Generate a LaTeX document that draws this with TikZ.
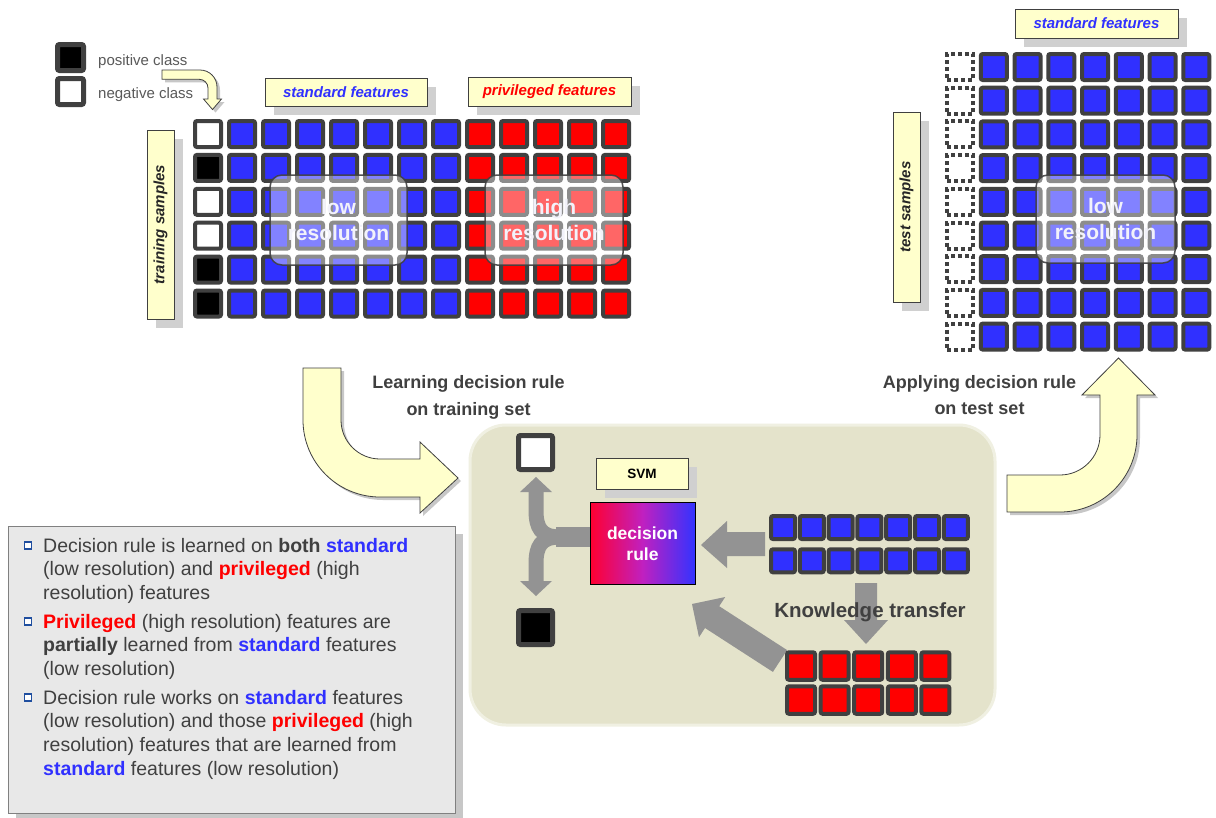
\documentclass[tikz,border=0pt]{standalone}
\usepackage{fontspec}
\setmainfont{Liberation Sans}
\usetikzlibrary{shadows}
\definecolor{cellgray}{HTML}{404040}
\definecolor{cblue}{HTML}{3030FF}
\definecolor{cred}{HTML}{FF0000}
\definecolor{labelbg}{HTML}{FFFFCC}
\definecolor{shadowgray}{HTML}{D0D0D0}
\definecolor{txtgray}{HTML}{404040}
\definecolor{arrowgray}{HTML}{939393}
\definecolor{panelbg}{HTML}{E4E3CB}
\definecolor{boxbg}{HTML}{E8E8E8}
\definecolor{legtxt}{HTML}{595959}
\definecolor{bulletblue}{HTML}{1F4E9F}
\definecolor{ruleL}{HTML}{FF0030}
\definecolor{ruleM}{HTML}{C020C0}
\definecolor{ruleR}{HTML}{3333FF}
\definecolor{glasstxt}{HTML}{F2F2FA}
\newcommand\Std[1]{\textbf{\color{cblue}#1}}
\newcommand\Priv[1]{\textbf{\color{cred}#1}}
\tikzset{
 cell/.style={draw=cellgray, line width=4pt, minimum size=26pt, inner sep=0pt, rounded corners=2pt},
 bcell/.style={cell, fill=cblue},
 rcell/.style={cell, fill=cred},
 wcell/.style={cell, fill=white},
 kcell/.style={cell, fill=black},
 dcell/.style={cell, fill=white, dash pattern=on 4pt off 3pt, rounded corners=0pt},
 pcell/.style={draw=cellgray, line width=4pt, inner sep=0pt, rounded corners=2pt},
 bigsq/.style={draw=cellgray, line width=5pt, inner sep=0pt, rounded corners=2pt},
 labelbox/.style={draw=cellgray, line width=0.8pt, fill=labelbg, inner sep=0pt,
   drop shadow={shadow xshift=9pt, shadow yshift=-9pt, fill=shadowgray, opacity=1}},
 lbfont/.style={font=\fontsize{15}{18}\selectfont\bfseries\itshape},
 glassbox/.style={draw=cellgray, line width=1.5pt, fill=white, fill opacity=0.4, draw opacity=0.9,
   text opacity=1, text=glasstxt, rounded corners=12pt, align=center, inner sep=0pt,
   font=\fontsize{21}{26}\selectfont\bfseries},
 yarrow/.style={fill=labelbg, draw=cellgray, line width=0.8pt,
   preaction={fill=black, fill opacity=0.22, transform canvas={xshift=3pt, yshift=-3pt}}},
 garrow/.style={fill=arrowgray, draw=none},
 legfont/.style={font=\fontsize{15}{18}\selectfont, text=legtxt, inner sep=0pt},
 headtxt/.style={font=\fontsize{18}{22}\selectfont\bfseries, text=txtgray, inner sep=0pt, anchor=base},
 bodytxt/.style={anchor=base west, inner sep=0pt, font=\fontsize{19.5}{23.7}\selectfont, text=txtgray},
 bullet/.style={draw=bulletblue, line width=1.8pt, fill=white, minimum size=7pt, inner sep=0pt}
}
\begin{document}
\begin{tikzpicture}[x=1pt,y=-1pt]
\useasboundingbox (0,0) rectangle (1216,817);
\fill[white] (0,0) rectangle (1216,817);

% ---------------- legend ----------------
\node[bigsq, fill=black, minimum size=26pt] (legpos) at (70.5,57.5) {};
\node[bigsq, fill=white, minimum size=26pt] (legneg) at (70.5,91.5) {};
\node[legfont, anchor=base west] (postxt) at (98,65) {positive class};
\node[legfont, anchor=base west] (negtxt) at (98,98) {negative class};
\draw[yarrow] (162,70) -- (200,70) .. controls (209.4,70) and (217,77.6) .. (217,87)
  -- (217,99) -- (221.5,99) -- (212.5,109.5) -- (203.5,99) -- (208,99) -- (208,88)
  .. controls (208,83.2) and (204.1,79.3) .. (199.3,79.3) -- (162,79.3) -- cycle;

% ---------------- training matrix ----------------
\node[labelbox, lbfont, text=cblue, minimum width=162pt, minimum height=28pt] (trstd) at (346,92) {standard features};
\node[labelbox, lbfont, text=cred, minimum width=163pt, minimum height=29pt] (trpriv) at (549.5,91.5) {privileged features};
\node[labelbox, minimum width=27pt, minimum height=189pt] (trsamp) at (160.5,224.5)
  {\rotatebox{90}{\fontsize{15}{18}\selectfont\bfseries\itshape\color{black!85} training samples}};
\foreach \r/\k in {0/wcell,1/kcell,2/wcell,3/wcell,4/kcell,5/kcell}
  \node[\k] (tr-\r-0) at (208,{134+33.9*\r}) {};
\foreach \r in {0,...,5}{
  \foreach \c in {1,...,7}
    \node[bcell] (tr-\r-\c) at ({208+34*\c},{134+33.9*\r}) {};
  \foreach \c in {8,...,12}
    \node[rcell] (tr-\r-\c) at ({208+34*\c},{134+33.9*\r}) {};
}
\node[glassbox, minimum width=137pt, minimum height=90pt] (lowtr) at (338.5,220) {low\\resolution};
\node[glassbox, minimum width=138pt, minimum height=90pt] (hightr) at (554,220) {high\\resolution};

% ---------------- test matrix ----------------
\node[labelbox, lbfont, text=cblue, minimum width=163pt, minimum height=29pt] (testd) at (1096.5,23.5) {standard features};
\node[labelbox, minimum width=27pt, minimum height=190pt] (tesamp) at (906.5,207)
  {\rotatebox{90}{\fontsize{15}{18}\selectfont\bfseries\itshape\color{black!85} test samples}};
\foreach \r in {0,...,8}{
  \node[dcell] (te-\r-0) at (960,{67+33.7*\r}) {};
  \foreach \c in {1,...,7}
    \node[bcell] (te-\r-\c) at ({960+33.75*\c},{67+33.7*\r}) {};
}
\node[glassbox, minimum width=139pt, minimum height=88pt] (lowte) at (1105.5,219) {low\\resolution};

% ---------------- big yellow arrows ----------------
\draw[yarrow] (303,368) -- (303,420) .. controls (303,462.5) and (337.5,497) .. (380,497)
  -- (420,497) -- (420,513) -- (458,478) -- (420,442) -- (420,459) -- (380,459)
  .. controls (358.5,459) and (341,441.5) .. (341,420) -- (341,368) -- cycle;
\draw[yarrow] (1007,475) -- (1060,475) .. controls (1082,475) and (1100,457) .. (1100,435)
  -- (1100,395) -- (1082,395) -- (1118.5,358) -- (1155,395) -- (1137,395) -- (1137,435)
  .. controls (1137,477.5) and (1102.5,512) .. (1060,512) -- (1007,512) -- cycle;
\node[headtxt] (learn1) at (468.5,388) {Learning decision rule};
\node[headtxt] (learn2) at (468.5,415) {on training set};
\node[headtxt] (apply1) at (979.5,388) {Applying decision rule};
\node[headtxt] (apply2) at (979.5,414) {on test set};

% ---------------- central panel ----------------
\node[fill=panelbg, draw=panelbg!55!white, line width=3pt, rounded corners=36pt,
  minimum width=525pt, minimum height=300pt, inner sep=0pt] (panel) at (732.5,575) {};

% gray arrows
\fill[garrow] (765,532) -- (727,532) -- (727,521) -- (701,545) -- (727,568) -- (727,556) -- (765,556) -- cycle;
\fill[garrow] (855,583) -- (877,583) -- (877,620) -- (888,620) -- (866,644) -- (844,620) -- (855,620) -- cycle;
\fill[garrow] (787.1,650.1) -- (719.2,606.2) -- (725.2,597) -- (692,604) -- (699,637.2) -- (705,628) -- (772.9,671.9) -- cycle;
\draw[arrowgray, line width=20pt] (590,537) -- (556,537);
\draw[arrowgray, line width=15pt] (560,537) .. controls (541,537) and (536,528) .. (536,510) -- (536,490);
\draw[arrowgray, line width=15pt] (560,537) .. controls (541,537) and (536,546) .. (536,564) -- (536,583);
\fill[garrow] (520,492) -- (536,477) -- (552,492) -- cycle;
\fill[garrow] (520,581) -- (536,596) -- (552,581) -- cycle;

% squares
\node[bigsq, fill=white, minimum size=34pt] (outneg) at (535.5,452.5) {};
\node[bigsq, fill=black, minimum size=34pt] (outpos) at (535.5,627.5) {};

% SVM + decision rule
\node[labelbox, font=\fontsize{13.5}{16}\selectfont\bfseries, minimum width=92pt, minimum height=31pt] (svm) at (642,473.5) {SVM};
\node[draw=black, line width=0.8pt, left color=ruleL, right color=ruleR, middle color=ruleM,
  minimum width=105pt, minimum height=82pt, inner sep=0pt] (rule) at (642.5,543) {};
\node[font=\fontsize{17.5}{22}\selectfont\bfseries, text=white, anchor=base, inner sep=0pt] (rule1) at (642.5,539) {decision};
\node[font=\fontsize{17.5}{22}\selectfont\bfseries, text=white, anchor=base, inner sep=0pt] (rule2) at (642.5,560) {rule};

% panel cells
\foreach \r in {0,1}{
  \foreach \c in {0,...,6}
    \node[pcell, fill=cblue, minimum width=24pt, minimum height=23pt] (pb-\r-\c) at ({783+28.8*\c},{527.5+33.3*\r}) {};
  \foreach \c in {0,...,4}
    \node[pcell, fill=cred, minimum width=28pt, minimum height=27.5pt] (pr-\r-\c) at ({801+33.6*\c},{666+34*\r}) {};
}
\node[font=\fontsize{20.5}{24}\selectfont\bfseries, text=txtgray, anchor=base, inner sep=0pt] (know) at (870,617) {Knowledge transfer};

% ---------------- notes box ----------------
\node[draw=black!50, line width=1pt, fill=boxbg, minimum width=447pt, minimum height=287pt, inner sep=0pt,
  drop shadow={shadow xshift=8pt, shadow yshift=-8pt, fill=black!22, opacity=1}] (notes) at (231.5,669.5) {};
\node[bullet] (b1) at (28,545.5) {};
\node[bullet] (b2) at (28,621.5) {};
\node[bullet] (b3) at (28,697.5) {};
\node[bodytxt] (l1) at (43,552) {Decision rule is learned on \textbf{both} \Std{standard}};
\node[bodytxt] (l2) at (43,575.7) {(low resolution) and \Priv{privileged} (high};
\node[bodytxt] (l3) at (43,599.4) {resolution) features};
\node[bodytxt] (l4) at (43,628) {\Priv{Privileged} (high resolution) features are};
\node[bodytxt] (l5) at (43,651.7) {\textbf{partially} learned from \Std{standard} features};
\node[bodytxt] (l6) at (43,675.4) {(low resolution)};
\node[bodytxt] (l7) at (43,704) {Decision rule works on \Std{standard} features};
\node[bodytxt] (l8) at (43,727.7) {(low resolution) and those \Priv{privileged} (high};
\node[bodytxt] (l9) at (43,751.4) {resolution) features that are learned from};
\node[bodytxt] (l10) at (43,775) {\Std{standard} features (low resolution)};
\end{tikzpicture}
\end{document}
